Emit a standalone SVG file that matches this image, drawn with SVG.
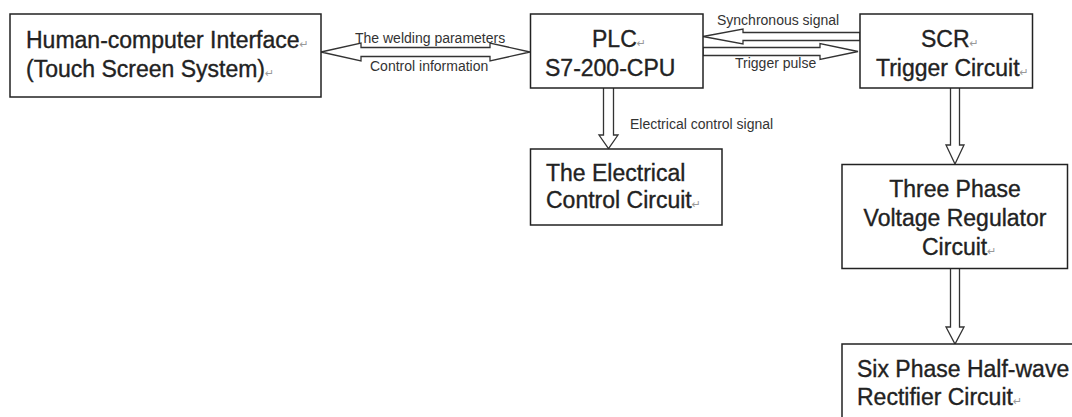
<svg xmlns="http://www.w3.org/2000/svg" width="1072" height="417" viewBox="0 0 1072 417">
<style>
.box{fill:#fff;stroke:#222;stroke-width:1.5}
.arr{fill:#fff;stroke:#333;stroke-width:1.3;stroke-linejoin:miter}
.t{font-family:"Liberation Sans",Arial,sans-serif;font-size:23px;fill:#222;stroke:#222;stroke-width:0.35}
.s{font-family:"Liberation Sans",Arial,sans-serif;font-size:14px;fill:#333}
.m{font-family:"DejaVu Sans",sans-serif;font-size:11px;fill:#999;stroke:none}
</style>
<rect width="1072" height="417" fill="#fff"/>
<g id="connectors">
<path class="arr" d="M321,52 L361,43 L361,47.5 L490,47.5 L490,43 L530,52 L490,61 L490,56.5 L361,56.5 L361,61 Z"/>
<path class="arr" d="M703,36.5 L743,29 L743,32.5 L860,32.5 L860,40.5 L743,40.5 L743,44 Z"/>
<path class="arr" d="M703,47.5 L820,47.5 L820,43.5 L858,51.5 L820,59.5 L820,55.5 L703,55.5 Z"/>
<path class="arr" d="M603.5,88 L603.5,135 L599,135 L608.5,148.5 L618,135 L613.5,135 L613.5,88"/>
<path class="arr" d="M950.5,88 L950.5,145 L946,145 L955,164 L964,145 L959.5,145 L959.5,88"/>
<path class="arr" d="M950.5,268 L950.5,327 L946,327 L955,344 L964,327 L959.5,327 L959.5,268"/>
<text class="s" x="355" y="43">The welding parameters</text>
<text class="s" x="370" y="71">Control information</text>
<text class="s" x="717" y="25">Synchronous signal</text>
<text class="s" x="735" y="68">Trigger pulse</text>
<text class="s" x="630" y="129">Electrical control signal</text>
</g>
<g id="hci">
<rect class="box" x="10" y="14" width="311" height="83"/>
<text class="t" x="26" y="48">Human-computer Interface<tspan class="m">↵</tspan></text>
<text class="t" x="26" y="77">(Touch Screen System)<tspan class="m">↵</tspan></text>
</g>
<g id="plc">
<rect class="box" x="530.5" y="14" width="172.5" height="74"/>
<text class="t" x="592" y="47">PLC<tspan class="m">↵</tspan></text>
<text class="t" x="545" y="76">S7-200-CPU</text>
</g>
<g id="scr">
<rect class="box" x="860" y="14" width="172.5" height="74"/>
<text class="t" x="921" y="47">SCR<tspan class="m">↵</tspan></text>
<text class="t" x="876" y="76">Trigger Circuit<tspan class="m">↵</tspan></text>
</g>
<g id="electrical">
<rect class="box" x="530.5" y="149" width="191.5" height="76"/>
<text class="t" x="546" y="181">The Electrical</text>
<text class="t" x="546" y="208">Control Circuit<tspan class="m">↵</tspan></text>
</g>
<g id="three-phase">
<rect class="box" x="842" y="164.5" width="225.5" height="104"/>
<text class="t" x="955" y="197" text-anchor="middle">Three Phase</text>
<text class="t" x="955" y="226" text-anchor="middle">Voltage Regulator</text>
<text class="t" x="922" y="255">Circuit<tspan class="m">↵</tspan></text>
</g>
<g id="six-phase">
<rect class="box" x="842" y="344" width="240" height="100"/>
<text class="t" x="857" y="377">Six Phase Half-wave</text>
<text class="t" x="857" y="405">Rectifier Circuit<tspan class="m">↵</tspan></text>
</g>
</svg>
